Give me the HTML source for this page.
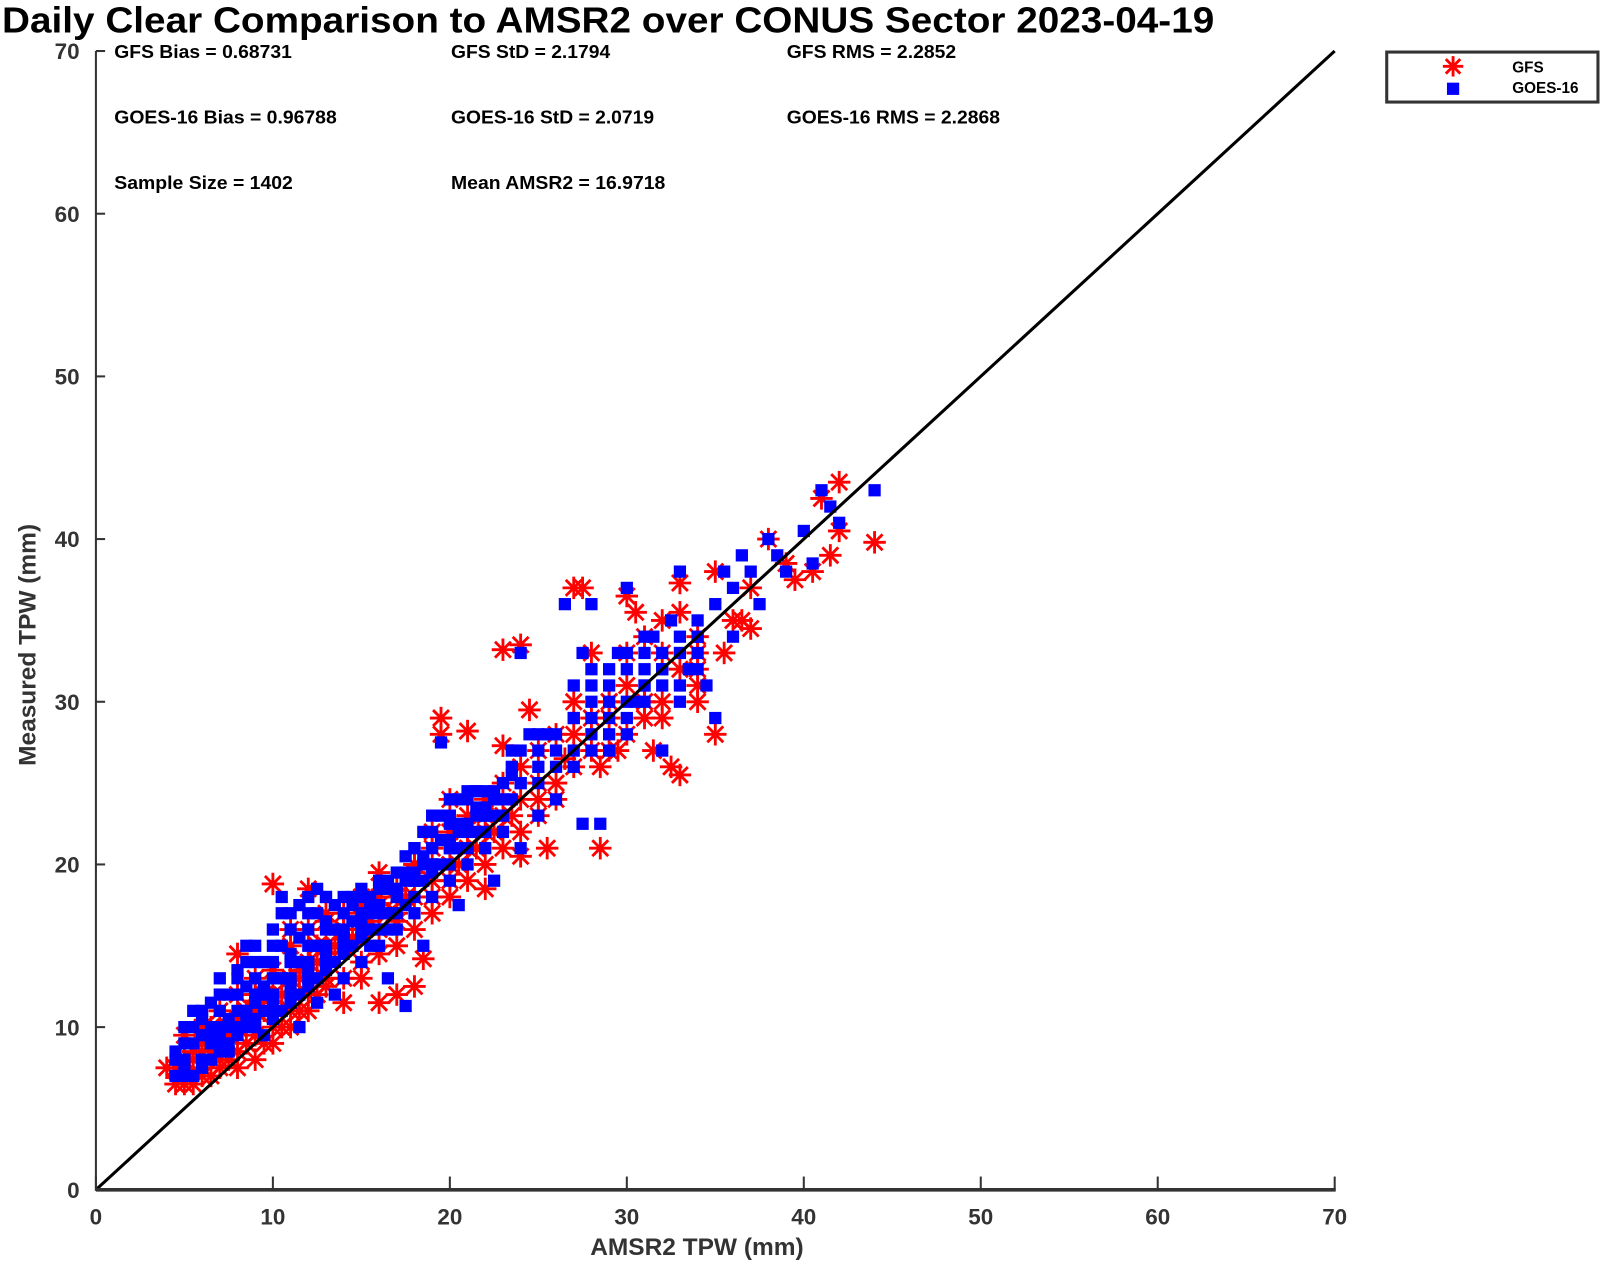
<!DOCTYPE html>
<html><head><meta charset="utf-8"><style>html,body{margin:0;padding:0;background:#fff}svg{display:block}text{font-family:"Liberation Sans",sans-serif;font-weight:bold}</style></head>
<body>
<svg id="chart" width="1600" height="1264" viewBox="0 0 1568 1238.7" xmlns="http://www.w3.org/2000/svg">
<text x="2" y="32" font-size="35" fill="#000" textLength="1188" lengthAdjust="spacingAndGlyphs">Daily Clear Comparison to AMSR2 over CONUS Sector 2023-04-19</text>
<g font-size="18" fill="#000">
<text x="112" y="57" textLength="174" lengthAdjust="spacingAndGlyphs">GFS Bias = 0.68731</text><text x="442" y="57" textLength="156" lengthAdjust="spacingAndGlyphs">GFS StD = 2.1794</text><text x="771" y="57" textLength="166" lengthAdjust="spacingAndGlyphs">GFS RMS = 2.2852</text>
<text x="112" y="121" textLength="218" lengthAdjust="spacingAndGlyphs">GOES-16 Bias = 0.96788</text><text x="442" y="121" textLength="199" lengthAdjust="spacingAndGlyphs">GOES-16 StD = 2.0719</text><text x="771" y="121" textLength="209" lengthAdjust="spacingAndGlyphs">GOES-16 RMS = 2.2868</text>
<text x="112" y="185" textLength="175" lengthAdjust="spacingAndGlyphs">Sample Size = 1402</text><text x="442" y="185" textLength="210" lengthAdjust="spacingAndGlyphs">Mean AMSR2 = 16.9718</text>
</g>
<g id="marks"></g>
<g id="axes"></g>
<g>
<rect x="1359" y="51" width="207" height="49" fill="#fff" stroke="#333" stroke-width="3"/>
<g id="legend-marks"></g>
<text x="1482" y="71" font-size="15" font-weight="normal" fill="#000">GFS</text>
<text x="1482" y="91" font-size="15" font-weight="normal" fill="#000">GOES-16</text>
</g>
<text x="683" y="1230" font-size="24" fill="#333" text-anchor="middle">AMSR2 TPW (mm)</text>
<text transform="translate(35,632) rotate(-90)" font-size="24" fill="#333" text-anchor="middle">Measured TPW (mm)</text>
</svg>
<script>
const xTicks=[0,10,20,30,40,50,60,70];
const yTicks=[0,10,20,30,40,50,60,70];
const gfsX=[4,4.5,5,5,6,6,7,7,8,8,9,9,10,10,11,11,12,12,13,13,14,14,15,15,16,16,17,17,18,18.5,18,19,19,19.5,19.5,20,20,21,21,22,22,23,23,24,24,24.5,25,25.5,26,27,27,27.5,28,28.5,28.5,29,29.5,30,30,30.5,31,31.5,32,32.5,32,33,33,33,34,34,35,35,35.5,36,37,37,38,39,39.5,40.5,41,41.5,42,42,44,
5.5,6.5,7.5,8.5,9.5,10.5,11.5,12.5,13.5,14.5,15.5,16.5,17.5,6,7,8,9,10,11,12,13,14,15,16,17,18,20.5,21.5,22.5,23.5,25,26.5,29,31,34,36.5];
const gfsY=[7.5,6.5,6.5,9.5,7,10,7.5,11,7.5,14.5,8,12,18.8,9,10,15,18.5,11,13,17,11.5,16,18,13,11.5,19.5,12,17,12.5,14.2,20,18,22,28,29,19,24,28.2,21,18.5,23,27.3,33.2,33.5,20.5,29.5,25,21,24,37,28,37,29,21,26,30,27,36.5,31,35.5,29,27,35,26,30,37.3,25.5,35.5,32,30,28,38,33,35,34.5,37,40,38.5,37.5,38,42.5,39,43.5,40.5,39.8,
8,9,9.5,10.5,11,12,13,14,15,15.5,16.5,17,18,8.5,9,10,11,12,13,14,15,16,17,17.5,18,19.5,20,21,22,23,24,26.5,29,30,33,35];
const gfsExtra=[[4.5,7.5],[5,7],[5,8],[5.5,6.5],[5.5,8.5],[6,7.5],[6,9],[6.5,7],[6.5,8.5],[6.5,10],[7,8],[7,9.5],[7.5,8],[7.5,10],[8,8.5],[8,10.5],[8,12],[8.5,9],[8.5,11],[9,9.5],[9,11],[9,13],[9.5,9],[9.5,12],[10,10],[10,11.5],[10,13.5],[10.5,10],[10.5,12],[11,11],[11,13],[11,16],[11.5,11],[11.5,13.5],[12,12],[12,14],[12,16],[12.5,12],[12.5,15],[13,12.5],[13,14.5],[13,16.5],[14,13],[14,15],[14,17],[15,14],[15,16],[15,17.5],[16,14.5],[16,16],[16,18],[17,15],[17,16.5],[17,18.5],[18,16],[18,18],[18,20],[19,17],[19,19],[19,21],[20,18],[20,20],[20,22],[21,19],[21,21],[21,23],[22,20],[22,22],[22,24],[23,21],[23,23],[23,25],[24,22],[24,24],[24,26],[25,23],[25,27],[26,25],[26,28],[27,26],[27,30],[28,27],[28,33],[29,27],[29,30],[30,28],[30,33],[31,30],[31,34],[32,29],[32,33],[33,32],[34,31],[34,34]];
const goesX=[4.5,5,5,5.5,6,6,6.5,7,7,7.5,8,8,8.5,8.5,9,9,9.5,10,10,10,10.5,11,11,11,11.5,12,12,12,12.5,13,13,13,13.5,14,14,14,14.5,15,15,15,15.5,16,16,16,16.5,17,17,17.5,18,18,18,18.5,19,19,19,19.5,20,20,20,20.5,21,21,21,21.5,22,22,22.5,23,23,23.5,24,24,24,24.5,25,25,25.5,26,26,26.5,27,27,27.5,27.5,28,28,28,28.5,29,29,29.5,30,30,30,30.5,31,31,31.5,32,32,32.5,33,33,33,33.5,34,34,34.5,35,35,35.5,36,36,36.5,37,37.5,38,38.5,39,40,40.5,41,41.5,42,44,
5,6,7,8,9,10,11,12,13,14,15,16,17,18,19,20,21,22,6.5,7.5,8.5,9.5,10.5,11.5,12.5,13.5,14.5,15.5,16.5,17.5,18.5,19.5,20.5,21.5,22.5,23.5,29,31,32,34];
const goesY=[8,7.5,9,10,8,11,9,12,10,8.5,11,13,15,10,12,14,9.5,11,13,15,18,12,14,16,10,13,15,17,11.5,14,16,18,12,15,17,13,18,16,14,18,17,15,17,19,13,18,16,11.3,19,17,21,15,20,18,23,27.5,21,19,23,17.5,22,24,20,24.5,23,21,19,24,22,27,33,25,21,28,26,23,28,24,27,36,29,26,33,22.5,36,30,28,22.5,31,27,33,32,29,37,30,33,30,34,31,27,35,33,38,30,32,35,33,31,36,29,38,37,34,39,38,36,40,39,38,40.5,38.5,43,42,41,43,
7,8,9,10,10.5,11.5,12.5,13.5,14.5,15.5,16.5,17,18,19,20,21,22,23,9.5,10,11,12,13,14,15,16,16.5,17.5,18.5,19.5,20.5,21.5,22.5,23.5,24.5,25.5,30,31,32,34];
const goesExtra=[[4.5,7],[4.5,8.5],[5,8],[5,10],[5.5,7],[5.5,9],[5.5,11],[6,7.5],[6,9.5],[6,10.5],[6.5,8],[6.5,10],[6.5,11.5],[7,8.5],[7,9.5],[7,11],[7,13],[7.5,9],[7.5,10.5],[7.5,12],[8,9.5],[8,12],[8,13.5],[8.5,10.5],[8.5,12.5],[8.5,14],[9,10],[9,11.5],[9,13],[9,15],[9.5,11],[9.5,12.5],[9.5,14],[10,10.5],[10,12],[10,14],[10,16],[10.5,11],[10.5,13],[10.5,15],[10.5,17],[11,11.5],[11,13],[11,14.5],[11,17],[11.5,12],[11.5,14],[11.5,15.5],[11.5,17.5],[12,12.5],[12,14],[12,16],[12,18],[12.5,13],[12.5,15],[12.5,17],[12.5,18.5],[13,13.5],[13,15],[13,16.5],[13,18],[13.5,14],[13.5,16],[13.5,17.5],[14,14.5],[14,16],[14,18],[14.5,15],[14.5,16.5],[14.5,17.5],[15,15.5],[15,17],[15,18.5],[15.5,15],[15.5,16],[15.5,18],[16,16],[16,17.5],[16,18.5],[16.5,16],[16.5,17],[16.5,19],[17,17],[17,18.5],[17,19.5],[17.5,17.5],[17.5,19],[17.5,20.5],[18,18],[18,19.5],[18,21],[18.5,19],[18.5,20],[18.5,22],[19,19.5],[19,21],[19,22],[19.5,20],[19.5,21.5],[19.5,23],[20,20],[20,21.5],[20,22.5],[20,24],[20.5,21],[20.5,22],[20.5,24],[21,21],[21,22.5],[21,24.5],[21.5,22],[21.5,23],[21.5,24.5],[22,22],[22,23.5],[22,24.5],[22.5,23],[22.5,24],[23,23],[23,25],[23.5,24],[23.5,26],[24,25],[24,27],[25,25],[25,27],[25,28],[26,26],[26,28],[27,27],[27,29],[27,31],[28,27],[28,29],[28,31],[28,32],[29,28],[29,29],[29,32],[30,28],[30,30],[30,33],[31,31],[31,32],[31,34],[32,32],[32,33],[33,31],[33,34],[34,34],[34,32]];
const X0=94,X1=1308,Y0=1166,Y1=50;
const sx=v=>X0+(v-0)/70*(X1-X0);
const sy=v=>Y0-(v-0)/70*(Y0-Y1);
const NS="http://www.w3.org/2000/svg";
function mk(t,a,p){const e=document.createElementNS(NS,t);for(const k in a)e.setAttribute(k,a[k]);p.appendChild(e);return e;}
function star(cx,cy,r,p){const g=mk('g',{stroke:'#ff0000','stroke-width':2.8},p);
[[0,r],[r,0],[r*0.71,r*0.71],[r*0.71,-r*0.71]].forEach(d=>mk('line',{x1:cx-d[0],y1:cy-d[1],x2:cx+d[0],y2:cy+d[1]},g));return g;}
const marks=document.getElementById('marks');
const gg=mk('g',{},marks);


const gfsAll=gfsX.map((x,i)=>[x,gfsY[i]]).concat(gfsExtra);
gfsAll.forEach(p=>{const s=star(sx(p[0]),sy(p[1]),11,gg);

});
const gb=mk('g',{fill:'#0000ff'},marks);


const goesAll=goesX.map((x,i)=>[x,goesY[i]]).concat(goesExtra);
goesAll.forEach(p=>{const r=mk('rect',{x:sx(p[0])-6,y:sy(p[1])-6,width:12,height:12},gb);

});
const ax=document.getElementById('axes');
const dl=mk('line',{x1:sx(0),y1:sy(0),x2:sx(70),y2:sy(70),stroke:'#000','stroke-width':3},ax);


const xa=mk('line',{x1:X0,y1:Y0,x2:X1+1,y2:Y0,stroke:'#333','stroke-width':3.5},ax);


const ya=mk('line',{x1:X0,y1:Y0+1,x2:X0,y2:Y1,stroke:'#333','stroke-width':2},ax);


xTicks.forEach(v=>{mk('line',{x1:sx(v),y1:Y0,x2:sx(v),y2:Y0-13,stroke:'#333','stroke-width':2},ax);
const t=mk('text',{x:sx(v),y:1200,'font-size':22,fill:'#333','text-anchor':'middle'},ax);t.textContent=v;

});
yTicks.forEach(v=>{mk('line',{x1:X0,y1:sy(v),x2:X0+9,y2:sy(v),stroke:'#333','stroke-width':2},ax);
const t=mk('text',{x:78,y:sy(v)+8,'font-size':22,fill:'#333','text-anchor':'end'},ax);t.textContent=v;

});
const lm=document.getElementById('legend-marks');
star(1424,65,10,lm);
mk('rect',{x:1418,y:81,width:12,height:12,fill:'#0000ff'},lm);
</script>
</body></html>
